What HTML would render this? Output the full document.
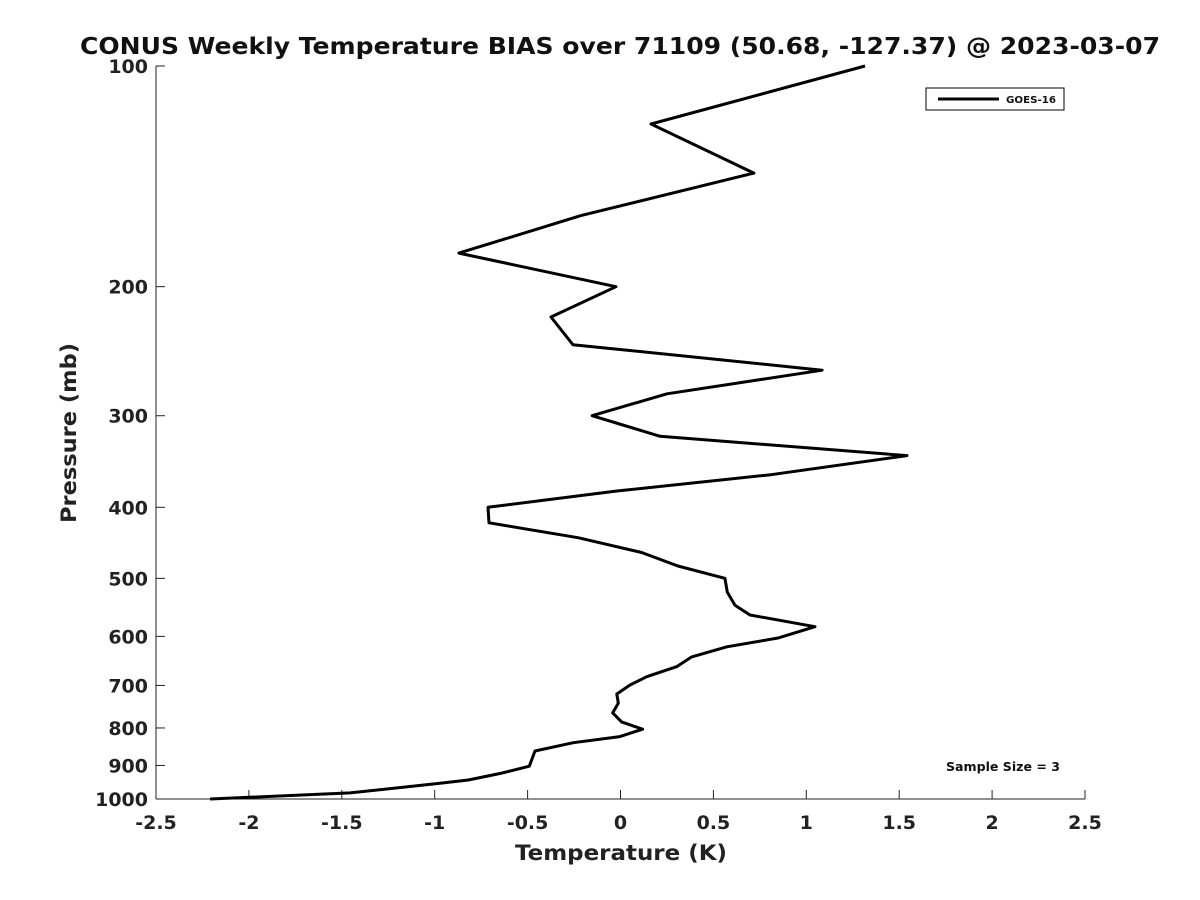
<!DOCTYPE html>
<html><head><meta charset="utf-8"><style>
html,body{margin:0;padding:0;background:#fff;}
svg{display:block;font-family:"DejaVu Sans","Liberation Sans",sans-serif;}
</style></head><body>
<svg id="chart" width="1200" height="900" xmlns="http://www.w3.org/2000/svg">
<rect width="1200" height="900" fill="#fff"/>
<text x="620" y="54" text-anchor="middle" font-size="23" font-weight="bold" fill="#111" textLength="1080" lengthAdjust="spacingAndGlyphs">CONUS Weekly Temperature BIAS over 71109 (50.68, -127.37) @ 2023-03-07</text>
<g id="axes"></g>
<path id="series" fill="none" stroke="#000" stroke-width="3" stroke-linejoin="round"/>
<g>
<rect x="926" y="88" width="138" height="22" fill="#fff" stroke="#000" stroke-width="1"/>
<line x1="938" y1="99" x2="999" y2="99" stroke="#000" stroke-width="3"/>
<text x="1006" y="103" font-size="10" font-weight="bold" fill="#111" textLength="50" lengthAdjust="spacingAndGlyphs">GOES-16</text>
</g>
<text x="946" y="771" font-size="12" font-weight="bold" fill="#111" textLength="114" lengthAdjust="spacingAndGlyphs">Sample Size = 3</text>
<text x="621" y="860" text-anchor="middle" font-size="21" font-weight="bold" fill="#222" textLength="212" lengthAdjust="spacingAndGlyphs">Temperature (K)</text>
<text transform="translate(76,433) rotate(-90)" text-anchor="middle" font-size="21" font-weight="bold" fill="#222" textLength="180" lengthAdjust="spacingAndGlyphs">Pressure (mb)</text>
</svg>
<script>
const pressures=[100,120,140,160,180,200,220,240,260,280,300,320,340,361,380,400,420,440,461,481,500,522,544,561,582,603,620,640,660,681,699,719,740,763,785,803,822,838,860,902,922,942,952,981,1000];
const biases=[1.316,0.164,0.718,-0.213,-0.870,-0.024,-0.374,-0.256,1.085,0.25,-0.153,0.213,1.542,0.81,-0.02,-0.713,-0.708,-0.229,0.114,0.309,0.562,0.575,0.616,0.697,1.047,0.848,0.572,0.383,0.302,0.141,0.051,-0.020,-0.012,-0.042,0.006,0.119,-0.003,-0.254,-0.460,-0.491,-0.639,-0.819,-0.971,-1.456,-2.209];
const xTicks=[-2.5,-2,-1.5,-1,-0.5,0,0.5,1,1.5,2,2.5];
const xTickLabels=["-2.5","-2","-1.5","-1","-0.5","0","0.5","1","1.5","2","2.5"];
const yTicks=[100,200,300,400,500,600,700,800,900,1000];
const yTickLabels=["100","200","300","400","500","600","700","800","900","1000"];
const L=156,R=1085,T=66,B=799;
const xs=v=>L+(v-(-2.5))/5*(R-L);
const ys=p=>T+(Math.log10(p)-2)*(B-T);
const NS="http://www.w3.org/2000/svg";
const ax=document.getElementById('axes');
function mk(tag,attrs){const e=document.createElementNS(NS,tag);for(const k in attrs)e.setAttribute(k,attrs[k]);return e;}
const xl=mk('line',{x1:L,y1:B,x2:R,y2:B,stroke:'#222','stroke-width':1});


ax.appendChild(xl);
const yl=mk('line',{x1:L,y1:T,x2:L,y2:B,stroke:'#222','stroke-width':1});


ax.appendChild(yl);
xTicks.forEach((v,i)=>{
 const x=xs(v);
 const t=mk('line',{x1:x,y1:B,x2:x,y2:B-9,stroke:'#222','stroke-width':1});
 
 
 ax.appendChild(t);
 const lb=mk('text',{x:x,y:B+30,'text-anchor':'middle','font-size':19,'font-weight':'bold',fill:'#222'});
 
 
 lb.textContent=xTickLabels[i];ax.appendChild(lb);
});
yTicks.forEach((p,i)=>{
 const y=ys(p);
 const t=mk('line',{x1:L,y1:y,x2:L+9,y2:y,stroke:'#222','stroke-width':1});
 
 
 ax.appendChild(t);
 const lb=mk('text',{x:L-8,y:y+7,'text-anchor':'end','font-size':19,'font-weight':'bold',fill:'#222'});
 
 
 lb.textContent=yTickLabels[i];ax.appendChild(lb);
});
document.getElementById('series').setAttribute('d',pressures.map((p,i)=>(i?'L':'M')+xs(biases[i]).toFixed(1)+','+ys(p).toFixed(1)).join(' '));
</script>
</body></html>
